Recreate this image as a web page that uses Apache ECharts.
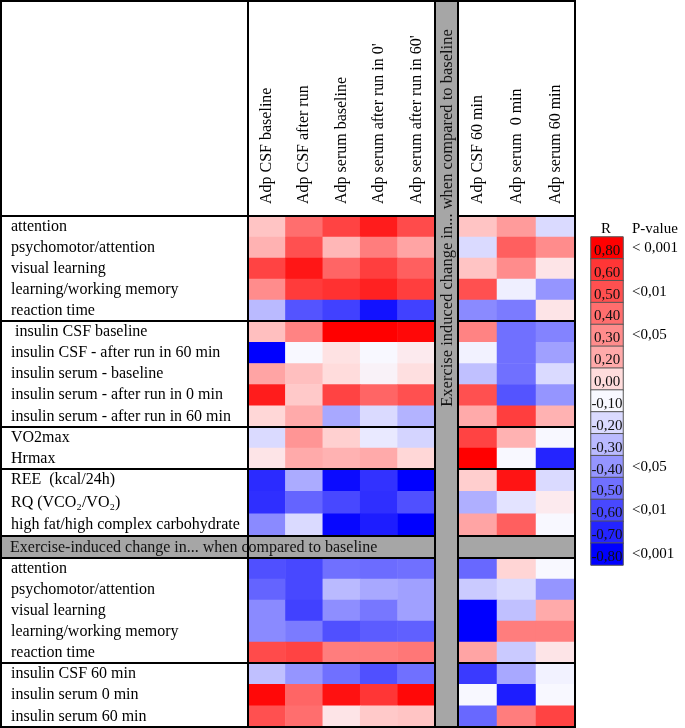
<!DOCTYPE html>
<html><head><meta charset="utf-8">
<script src="https://cdn.jsdelivr.net/npm/echarts@6/dist/echarts.min.js"></script>
<style>html,body{margin:0;padding:0;background:#fff}#c{width:685px;height:728px}</style>
</head><body><div id="c"></div>
<script>
// ---------- DATA ----------
const columnsLeft = ['Adp CSF baseline', 'Adp CSF after run', 'Adp serum baseline', "Adp serum after run in 0'", "Adp serum after run in 60'"];
const columnsRight = ['Adp CSF 60 min', 'Adp serum  0 min', 'Adp serum 60 min'];

const rowsCognition = ['attention', 'psychomotor/attention', 'visual learning', 'learning/working memory', 'reaction time'];
const rowsInsulin = [' insulin CSF baseline', 'insulin CSF - after run in 60 min', 'insulin serum - baseline', 'insulin serum - after run in 0 min', 'insulin serum - after run in 60 min'];
const rowsFitness = ['VO2max', 'Hrmax'];
const rowsMetabolism = ['REE  (kcal/24h)', 'RQ (VCO\u2082/VO\u2082)', 'high fat/high complex carbohydrate'];
const rowsChangeCognition = ['attention', 'psychomotor/attention', 'visual learning', 'learning/working memory', 'reaction time'];
const rowsChangeInsulin = ['insulin CSF 60 min', 'insulin serum 0 min', 'insulin serum 60 min'];

// R values: 5 left columns then 3 right columns
const rCognition = [
  [0.10, 0.40, 0.55, 0.70, 0.52, 0.10, 0.25, -0.20],
  [0.17, 0.50, 0.15, 0.35, 0.22, -0.20, 0.45, 0.30],
  [0.55, 0.72, 0.43, 0.57, 0.45, 0.10, 0.30, -0.03],
  [0.30, 0.58, 0.62, 0.68, 0.57, 0.50, -0.13, -0.40],
  [-0.30, -0.57, -0.62, -0.75, -0.62, -0.43, -0.47, -0.03]
];
const rInsulin = [
  [0.12, 0.33, 0.80, 0.80, 0.77, 0.33, -0.50, -0.45],
  [-0.80, -0.10, -0.02, -0.10, -0.05, -0.12, -0.50, -0.37],
  [0.22, 0.12, 0.00, -0.08, -0.01, -0.28, -0.50, -0.20],
  [0.70, 0.08, 0.55, 0.43, 0.50, 0.50, -0.57, -0.40],
  [0.02, 0.20, -0.35, -0.20, -0.32, 0.20, 0.57, 0.17]
];
const rFitness = [
  [-0.20, 0.27, 0.05, -0.15, -0.22, 0.55, 0.17, -0.10],
  [-0.03, 0.20, 0.17, 0.20, 0.02, 0.80, -0.10, -0.70]
];
const rMetabolism = [
  [-0.68, -0.34, -0.77, -0.66, -0.80, 0.06, 0.73, -0.20],
  [-0.67, -0.53, -0.60, -0.67, -0.58, -0.33, -0.17, -0.05],
  [-0.43, -0.20, -0.78, -0.72, -0.80, 0.22, 0.45, -0.10]
];
const rChangeCognition = [
  [-0.58, -0.60, -0.50, -0.51, -0.50, -0.52, 0.03, -0.10],
  [-0.53, -0.60, -0.30, -0.35, -0.37, -0.25, -0.20, -0.40],
  [-0.43, -0.62, -0.42, -0.48, -0.37, -0.80, -0.28, 0.20],
  [-0.43, -0.47, -0.58, -0.55, -0.54, -0.80, 0.35, 0.35],
  [0.52, 0.55, 0.35, 0.35, 0.37, 0.22, -0.25, -0.03]
];
const rChangeInsulin = [
  [-0.28, -0.40, -0.50, -0.58, -0.50, -0.64, -0.35, -0.12],
  [0.77, 0.43, 0.74, 0.60, 0.77, -0.10, -0.72, -0.10],
  [0.50, 0.40, -0.03, 0.08, 0.10, -0.52, 0.35, 0.55]
];

const legendValues = [0.80, 0.60, 0.50, 0.40, 0.30, 0.20, 0.00, -0.10, -0.20, -0.30, -0.40, -0.50, -0.60, -0.70, -0.80];
const legendPValues = ['< 0,001', '', '<0,01', '', '<0,05', '', '', '', '', '', '<0,05', '', '<0,01', '', '<0,001'];

const changeTitle = 'Exercise-induced change in... when compared to baseline';
const changeTitleVertical = 'Exercise induced change in... when compared to baseline';

// ---------- STYLE / LAYOUT ----------
const FONT = "'Liberation Serif','Times New Roman',serif";
const colorStops = ['#0000ff', '#2424ff', '#4848ff', '#7070ff', '#9595ff', '#babaff', '#dadaff', '#f8f8ff',
  '#ffdcdc', '#ffc4c4', '#ffaaaa', '#ff8c8c', '#ff6e6e', '#ff5050', '#ff3636', '#ff1c1c', '#ff0000'];
const GRAY = '#a6a6a6';
const X_LABEL = 1, X_CELL_L = 248, X_GAP = 435, X_CELL_R = 458, X_END = 575;
const sections = [
  { rows: rowsCognition, values: rCognition, top: 216, bottom: 321, header: true },
  { rows: rowsInsulin, values: rInsulin, top: 321, bottom: 427 },
  { rows: rowsFitness, values: rFitness, top: 427, bottom: 469 },
  { rows: rowsMetabolism, values: rMetabolism, top: 469, bottom: 536 },
  { rows: rowsChangeCognition, values: rChangeCognition, top: 558, bottom: 663 },
  { rows: rowsChangeInsulin, values: rChangeInsulin, top: 663, bottom: 727 }
];
const GRAY_ROW = { top: 536, bottom: 558 };
const fmt = v => v.toFixed(2).replace('.', ',');

const grids = [], xAxes = [], yAxes = [], series = [];
sections.forEach(s => {
  [[columnsLeft, X_CELL_L, X_GAP - X_CELL_L, 0, true], [columnsRight, X_CELL_R, X_END - X_CELL_R, columnsLeft.length, false]]
    .forEach(([cols, left, width, off, isLeft]) => {
      const gi = grids.length;
      grids.push({ left, top: s.top, width, height: s.bottom - s.top });
      xAxes.push({
        type: 'category', gridIndex: gi, data: cols, position: 'top',
        axisLine: { show: false }, axisTick: { show: false }, splitLine: { show: false },
        axisLabel: { show: !!s.header, rotate: -90, margin: 12, interval: 0, fontFamily: FONT, fontSize: 16, color: '#000' }
      });
      yAxes.push({
        type: 'category', gridIndex: gi, data: s.rows, inverse: true,
        axisLine: { show: false }, axisTick: { show: false }, splitLine: { show: false },
        axisLabel: { show: isLeft, align: 'left', margin: left - 11, interval: 0, fontFamily: FONT, fontSize: 16, color: '#000', padding: [2, 0, 0, 0] }
      });
      const data = [];
      s.values.forEach((row, ri) => cols.forEach((c, ci) => data.push([ci, ri, row[ci + off]])));
      series.push({ type: 'heatmap', xAxisIndex: gi, yAxisIndex: gi, data, silent: true, emphasis: { disabled: true } });
    });
});

// legend colour bar
const lg = grids.length;
grids.push({ left: 591, top: 237, width: 32, height: 328 });
xAxes.push({ type: 'category', gridIndex: lg, data: ['R'], show: false });
yAxes.push({
  type: 'category', gridIndex: lg, data: legendValues.map(fmt), inverse: true, position: 'right',
  axisLine: { show: false }, axisTick: { show: false }, splitLine: { show: false },
  axisLabel: { interval: 0, margin: 9, fontFamily: FONT, fontSize: 15, color: '#000', formatter: (v, i) => legendPValues[i] }
});
series.push({
  type: 'heatmap', xAxisIndex: lg, yAxisIndex: lg, silent: true, emphasis: { disabled: true },
  data: legendValues.map((v, i) => [0, i, v]),
  itemStyle: { borderColor: '#555', borderWidth: 1 },
  label: { show: true, formatter: p => fmt(p.value[2]), fontFamily: FONT, fontSize: 15, color: '#111', offset: [0, 3] }
});

// table frames
const frame = { stroke: '#000', lineWidth: 2, fill: null };
const graphics = [];
const boxRow = (top, bottom, fill) => {
  [[X_LABEL, X_CELL_L], [X_CELL_L, X_GAP], [X_CELL_R, X_END]].forEach(([a, b]) => {
    graphics.push({ type: 'rect', z: 100, silent: true, shape: { x: a, y: top, width: b - a, height: bottom - top },
      style: Object.assign({}, frame, fill ? { fill } : {}) });
  });
};
boxRow(1, 216);
sections.forEach(s => boxRow(s.top, s.bottom));
boxRow(GRAY_ROW.top, GRAY_ROW.bottom, GRAY);
graphics.push({ type: 'rect', z: 101, silent: true, shape: { x: X_GAP, y: 1, width: X_CELL_R - X_GAP, height: 726 },
  style: { fill: GRAY, stroke: '#000', lineWidth: 2 } });
graphics.push({ type: 'text', z: 102, silent: true, x: 10, y: (GRAY_ROW.top + GRAY_ROW.bottom) / 2 + 1,
  style: { text: changeTitle, font: '16px ' + FONT, fill: '#111', textVerticalAlign: 'middle', textAlign: 'left' } });
graphics.push({ type: 'text', z: 102, silent: true, x: (X_GAP + X_CELL_R) / 2 + 1, y: 218, rotation: Math.PI / 2,
  style: { text: changeTitleVertical, font: '16.5px ' + FONT, fill: '#111', textVerticalAlign: 'middle', textAlign: 'center' } });
graphics.push({ type: 'text', z: 102, silent: true, x: 606, y: 229,
  style: { text: 'R', font: '15px ' + FONT, fill: '#000', textVerticalAlign: 'middle', textAlign: 'center' } });
graphics.push({ type: 'text', z: 102, silent: true, x: 632, y: 229,
  style: { text: 'P-value', font: '15px ' + FONT, fill: '#000', textVerticalAlign: 'middle', textAlign: 'left' } });

const chart = echarts.init(document.getElementById('c'), null, { renderer: 'canvas' });
chart.setOption({
  animation: false,
  backgroundColor: '#fff',
  grid: grids, xAxis: xAxes, yAxis: yAxes,
  visualMap: { type: 'continuous', show: false, min: -0.8, max: 0.8, seriesIndex: series.map((s, i) => i), inRange: { color: colorStops } },
  series,
  graphic: graphics
});
</script>
</body></html>
